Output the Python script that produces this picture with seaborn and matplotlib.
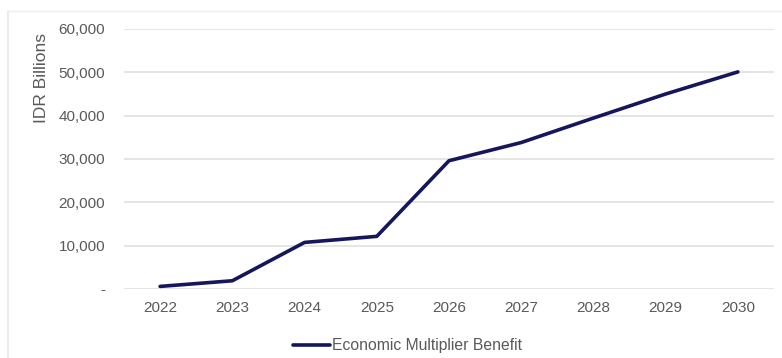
import matplotlib
matplotlib.use("Agg")
import matplotlib.pyplot as plt
import seaborn as sns
import pandas as pd
from matplotlib.lines import Line2D
from matplotlib.ticker import FuncFormatter

years = ["2022", "2023", "2024", "2025", "2026", "2027", "2028", "2029", "2030"]
benefit = [600, 1900, 10750, 12150, 29600, 33800, 39450, 45000, 50100]
series_name = "Economic Multiplier Benefit"
y_label = "IDR Billions"
y_ticks = [0, 10000, 20000, 30000, 40000, 50000, 60000]

df = pd.DataFrame({"Year": years, "Value": benefit, "Series": series_name})

sns.set_theme(style="white")
plt.rcParams["font.family"] = ["Liberation Sans", "DejaVu Sans"]

text_color = "#595959"
line_color = "#16165c"

fig = plt.figure(figsize=(7.82, 3.58), dpi=100)
ax = fig.add_axes([124/782, 1 - 289/358, 650/782, 260/358])

sns.lineplot(data=df, x="Year", y="Value", hue="Series", palette=[line_color],
             linewidth=2.6, ax=ax, sort=False, legend=True)

ax.set_xlim(-0.5, len(years) - 0.5)
ax.set_ylim(0, 60000)
ax.set_yticks(y_ticks)
ax.yaxis.set_major_formatter(FuncFormatter(lambda v, p: "-" if v == 0 else f"{int(v):,}"))
ax.grid(axis="y", color="#e0e0e0", linewidth=1.2)
ax.set_axisbelow(True)
for s in ax.spines.values():
    s.set_visible(False)
ax.tick_params(axis="both", length=0, labelsize=11, colors=text_color)
ax.tick_params(axis="y", pad=13.5)
ax.tick_params(axis="x", pad=9)
ax.set_xlabel("")
ax.set_ylabel(y_label, fontsize=12.5, color=text_color)
ax.yaxis.set_label_coords(-0.116, 0.81)

leg = ax.legend(loc="upper center", bbox_to_anchor=(0.436, -0.135),
                frameon=False, fontsize=11.3, handlelength=2.35, handletextpad=0.15)
for t in leg.get_texts():
    t.set_color(text_color)
for h in leg.legend_handles:
    h.set_linewidth(2.6)

# faint frame at top and left
fig.add_artist(Line2D([8/782, 8/782], [0, 1 - 11/358], color="#e8e8e8", linewidth=1.2, transform=fig.transFigure))
fig.add_artist(Line2D([8/782, 1], [1 - 11/358, 1 - 11/358], color="#eeeeee", linewidth=1.0, transform=fig.transFigure))

fig.savefig("out.png", dpi=100)
